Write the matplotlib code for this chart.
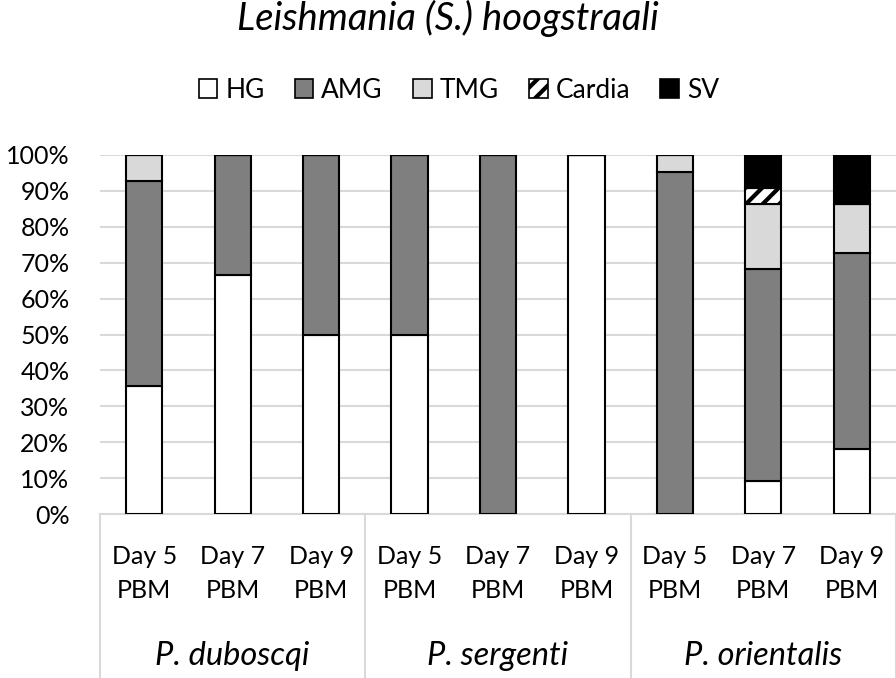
import numpy as np
import matplotlib
matplotlib.use("Agg")
import matplotlib.pyplot as plt
from matplotlib.patches import Patch
from matplotlib.lines import Line2D

plt.rcParams['font.family'] = ['Lato', 'DejaVu Sans']
plt.rcParams['hatch.linewidth'] = 3

# data (percent of infected females)
days = ["Day 5\nPBM", "Day 7\nPBM", "Day 9\nPBM"] * 3
species = ["P. duboscqi", "P. sergenti", "P. orientalis"]
series = ["HG", "AMG", "TMG", "Cardia", "SV"]
HG = [35.7, 66.7, 50, 50, 0, 100, 0, 9.1, 18.2]
AMG = [57.1, 33.3, 50, 50, 100, 0, 95.2, 59.1, 54.5]
TMG = [7.2, 0, 0, 0, 0, 0, 4.8, 18.2, 13.6]
Cardia = [0, 0, 0, 0, 0, 0, 0, 4.5, 0]
SV = [0, 0, 0, 0, 0, 0, 0, 9.1, 13.7]

colors = {"HG": "white", "AMG": "#7f7f7f", "TMG": "#d9d9d9", "Cardia": "white", "SV": "black"}
hatches = {"Cardia": "//"}

W, H = 896, 678
fig = plt.figure(figsize=(W / 100, H / 100), dpi=100)
ax = fig.add_axes([100 / W, (H - 514) / H, 796 / W, 359 / H])

x = np.arange(len(days))
bottom = np.zeros(len(days))
for name, vals in zip(series, [HG, AMG, TMG, Cardia, SV]):
    vals = np.array(vals)
    ax.bar(x, vals, 0.41, bottom=bottom, color=colors[name], edgecolor="black",
           linewidth=1.5, hatch=hatches.get(name), zorder=3)
    bottom += vals

ax.set_xlim(-0.5, len(days) - 0.5)
ax.set_ylim(0, 100)
ax.set_yticks(np.arange(0, 101, 10))
ax.set_yticklabels([f"{v}%" for v in range(0, 101, 10)], fontsize=18)
ax.tick_params(axis="y", length=0, pad=22)
ax.set_xticks(x)
ax.set_xticklabels(days, fontsize=18, linespacing=1.62)
ax.tick_params(axis="x", length=0, pad=22)
ax.grid(axis="y", color="#d9d9d9", linewidth=1.5, zorder=0)
for s in ["top", "right", "left"]:
    ax.spines[s].set_visible(False)
ax.spines["bottom"].set_color("#d9d9d9")
ax.spines["bottom"].set_linewidth(1.5)

# multi-level category axis
depth = (H - 514) / 359
for b in [-0.5, 2.5, 5.5, 8.5]:
    ax.add_line(Line2D([b, b], [0, -depth], transform=ax.get_xaxis_transform(),
                       color="#d9d9d9", linewidth=1.5, clip_on=False))
for i, sp in enumerate(species):
    ax.text(3 * i + 1, -(656 - 514) / 359, sp, transform=ax.get_xaxis_transform(),
            ha="center", va="center", fontsize=23.5, style="italic")

fig.text(0.5, 1 - 18 / H, "Leishmania (S.) hoogstraali", ha="center", va="center",
         fontsize=27.5, style="italic")

handles = [Patch(facecolor=colors[n], edgecolor="black", hatch=hatches.get(n), linewidth=1.2)
           for n in series]
fig.legend(handles, series, loc="center", bbox_to_anchor=(459 / W, 1 - 90 / H), ncol=5,
           frameon=False, fontsize=19, handlelength=0.7, handleheight=0.7,
           handletextpad=0.3, columnspacing=1.15)

fig.savefig("out.png", dpi=100)
